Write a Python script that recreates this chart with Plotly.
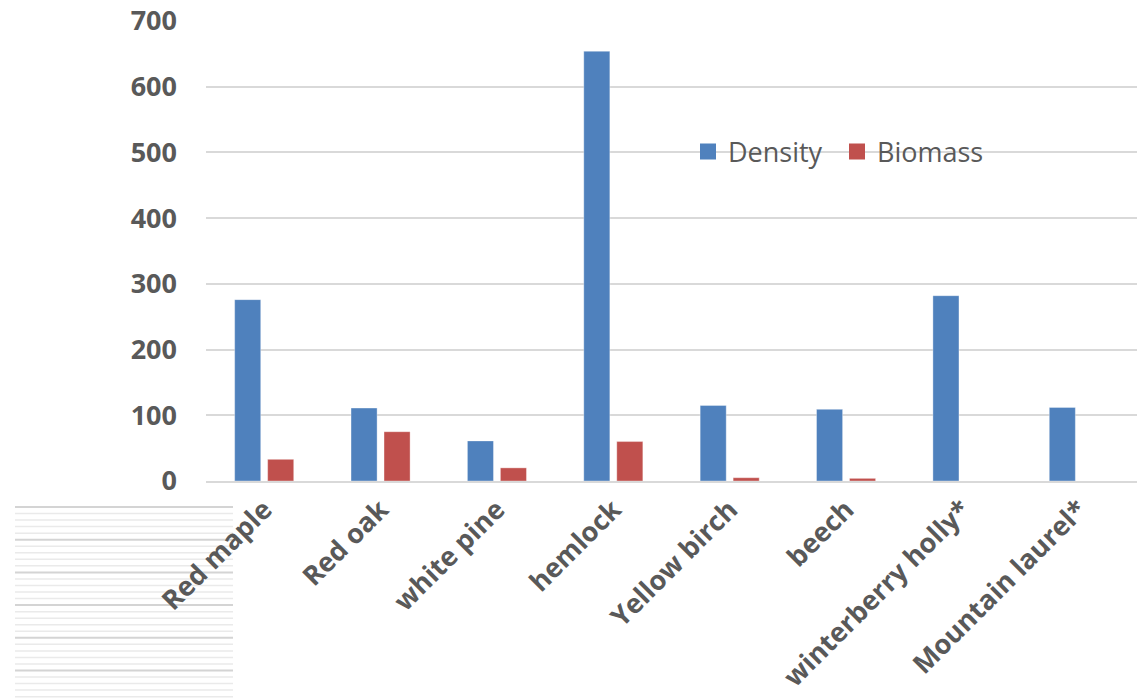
import plotly.graph_objects as go

# Tree species surveyed and their measured values
species = ["Red maple", "Red oak", "white pine", "hemlock", "Yellow birch",
           "beech", "winterberry holly*", "Mountain laurel*"]
density = [276, 111, 61, 654, 115, 109, 282, 112]
biomass = [33, 75, 20, 60, 5, 4, 0, 0]
y_ticks = [0, 100, 200, 300, 400, 500, 600, 700]

BLUE = "#4F81BD"
RED = "#C0504D"
TEXT = "#595959"
GRID = "#D9D9D9"
FONT = "Open Sans"

W, H = 1144, 699
L, R, T, B = 206, 7, 21, 218

fig = go.Figure()
fig.add_trace(go.Bar(x=species, y=density, name="Density", marker_color=BLUE,
                     marker_line=dict(color="rgba(255,255,255,0.35)", width=1),
                     showlegend=False))
fig.add_trace(go.Bar(x=species, y=biomass, name="Biomass", marker_color=RED,
                     marker_line=dict(color="rgba(255,255,255,0.35)", width=1),
                     showlegend=False))

# Larger square legend keys
for nm, col in (("Density", BLUE), ("Biomass", RED)):
    fig.add_trace(go.Scatter(x=[None], y=[None], mode="markers", name=nm,
                             marker=dict(symbol="square", size=16, color=col)))

# Ruled block in the lower-left corner
pw, ph = W - L - R, H - T - B
def px(xp):
    return (xp - L) / pw
def py(yp):
    return (H - B - yp) / ph

shapes = []
for i in range(30):
    yy = 507 + i * 6.54
    dark = (i % 5 == 0)
    shapes.append(dict(type="line", xref="paper", yref="paper",
                       x0=px(15), x1=px(233), y0=py(yy), y1=py(yy),
                       line=dict(color="#D4D4D4" if dark else "#EAEAEA",
                                 width=2 if dark else 1.5),
                       layer="below"))

fig.update_layout(
    width=W, height=H,
    margin=dict(l=L, r=R, t=T, b=B, autoexpand=False),
    paper_bgcolor="white", plot_bgcolor="white",
    barmode="group", bargap=0.433, bargroupgap=0.21,
    font=dict(family=FONT, color=TEXT),
    shapes=shapes,
    legend=dict(orientation="h", x=px(688), y=py(152), xanchor="left",
                yanchor="middle", font=dict(size=27, color=TEXT, family=FONT),
                bgcolor="rgba(0,0,0,0)", itemwidth=30,
                entrywidth=104, entrywidthmode="pixels"),
    showlegend=True,
)
fig.update_yaxes(range=[0, 700], tickvals=y_ticks, showgrid=True,
                 gridcolor=GRID, gridwidth=2, zeroline=False, showline=False,
                 ticks="", ticklabelstandoff=28,
                 tickfont=dict(size=27, family=FONT, color=TEXT, weight="bold"))
fig.update_xaxes(showgrid=False, showline=True, linecolor=GRID, linewidth=2,
                 tickangle=-45, ticks="", automargin=False,
                 tickfont=dict(size=27, family=FONT, color=TEXT, weight="bold"))

fig.write_html("out.html")
